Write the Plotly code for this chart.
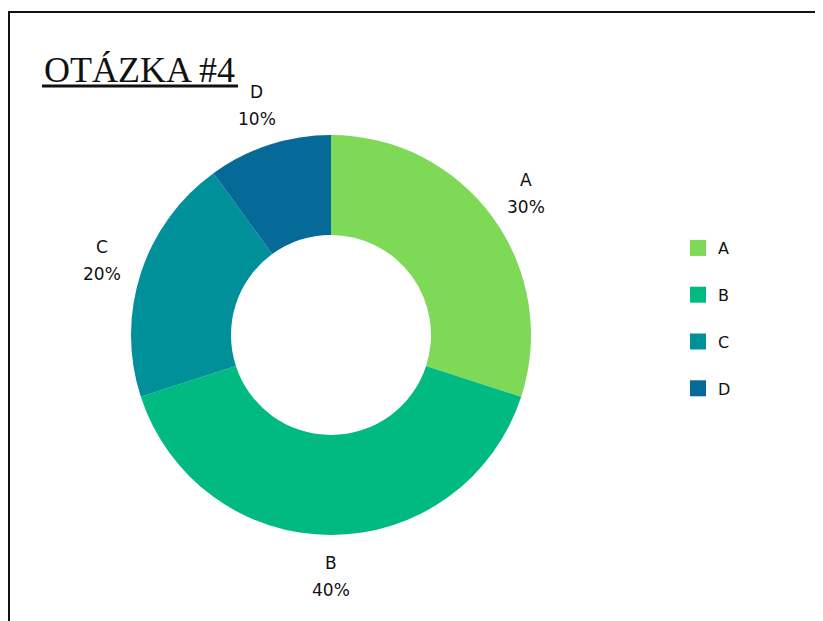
import numpy as np
import plotly.graph_objects as go

# Figure size (page has an 8px body margin)
OFF = 8
W, H = 823 - 2 * OFF, 621 - OFF

labels = ["A", "B", "C", "D"]
values = [30, 40, 20, 10]
colors = ["#7ED957", "#00BA82", "#00909A", "#066A98"]
title_text = "OTÁZKA #4"


def px(x):  # screen x -> paper x
    return (x - OFF) / W


def py(y):  # screen y -> paper y
    return (H - (y - OFF)) / H


fig = go.Figure()

cx, cy, R = 331, 335, 200
fig.add_trace(go.Pie(
    labels=labels, values=values, sort=False, direction="clockwise", rotation=0,
    hole=0.5,
    marker=dict(colors=colors, line=dict(width=0)),
    textinfo="none",
    domain=dict(x=[px(cx - R), px(cx + R)], y=[py(cy + R), py(cy - R)]),
    showlegend=False,
    hoverinfo="label+percent",
))

# Outside labels placed at the mid-angle of each slice (computed from the data)
vals = np.array(values, dtype=float)
frac = vals / vals.sum()
mid = (np.cumsum(frac) - frac / 2) * 2 * np.pi  # clockwise from 12 o'clock
r_lab = R * 1.205
for lab, f, a in zip(labels, frac, mid):
    lx = cx + r_lab * np.sin(a)
    ly = cy - r_lab * np.cos(a)
    for txt, shift in ((lab, 13.5), (f"{f * 100:.0f}%", -13.5)):
        fig.add_annotation(
            x=px(lx), y=py(ly), xref="paper", yref="paper",
            xanchor="center", yanchor="middle", yshift=shift, showarrow=False,
            text=txt, font=dict(family="DejaVu Sans", size=17, color="#111111"),
        )

for lab, col in zip(labels, colors):
    fig.add_trace(go.Scatter(
        x=[None], y=[None], mode="markers", name=lab,
        legendgroup=lab,
        marker=dict(symbol="square", size=16, color=col),
        showlegend=True,
    ))

fig.add_annotation(
    x=px(42), y=py(48), xref="paper", yref="paper",
    xanchor="left", yanchor="top", showarrow=False,
    text=title_text,
    font=dict(family="Liberation Serif", size=36, color="#111111"),
)
fig.add_shape(type="line", xref="paper", yref="paper",
              x0=px(42), x1=px(238), y0=py(86), y1=py(86),
              line=dict(color="#111111", width=3))

# Page frame: top and left edges
fig.add_shape(type="line", xref="paper", yref="paper",
              x0=px(8), x1=1.02, y0=py(12), y1=py(12),
              line=dict(color="#111111", width=2))
fig.add_shape(type="line", xref="paper", yref="paper",
              x0=px(9), x1=px(9), y0=py(11), y1=-0.02,
              line=dict(color="#111111", width=2))

fig.update_layout(
    width=W, height=H,
    margin=dict(l=0, r=0, t=0, b=0),
    paper_bgcolor="white", plot_bgcolor="white",
    xaxis=dict(visible=False), yaxis=dict(visible=False),
    legend=dict(x=px(678), y=py(231), xanchor="left", yanchor="top",
                font=dict(family="DejaVu Sans", size=16, color="#111111"),
                tracegroupgap=23, bgcolor="rgba(0,0,0,0)"),
)

fig.write_html("out.html")
